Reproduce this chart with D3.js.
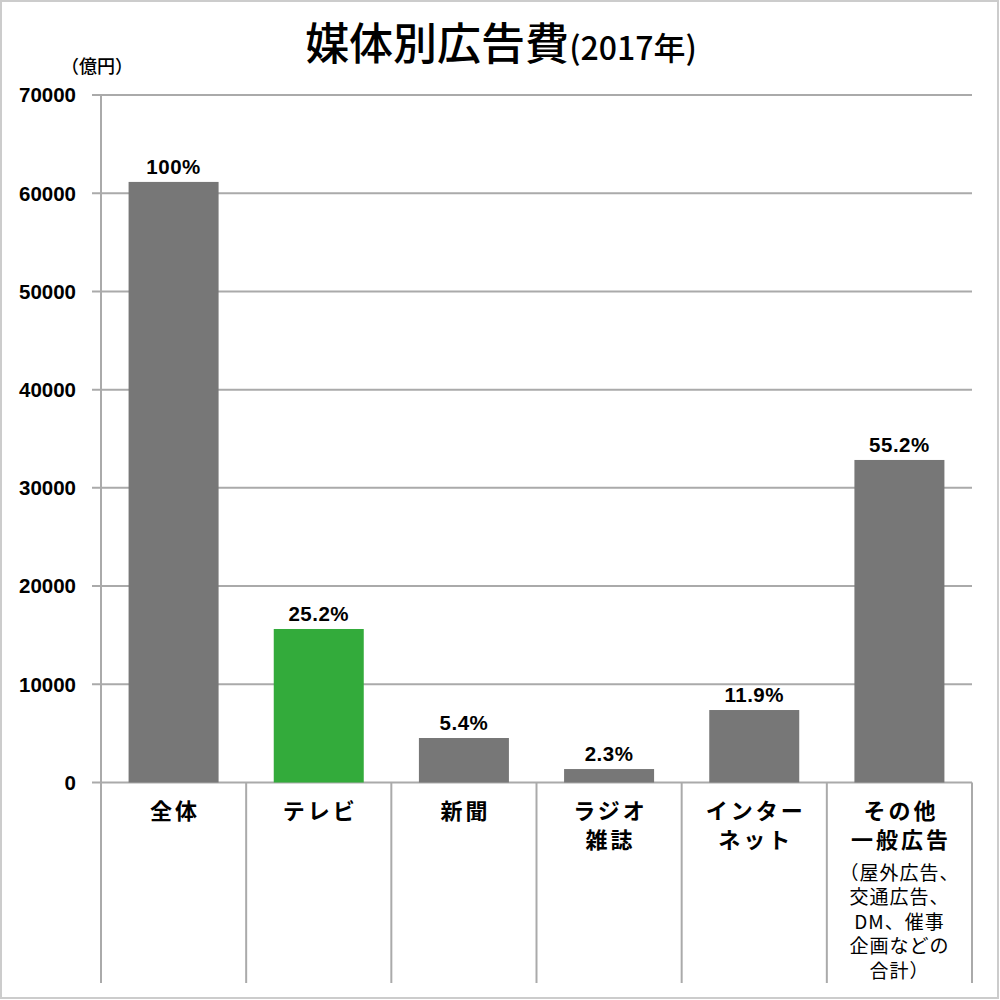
<!DOCTYPE html>
<html><head><meta charset="utf-8">
<script src="https://cdn.jsdelivr.net/npm/d3@7"></script>
<style>
html,body{margin:0;padding:0;background:#fff;}
svg{display:block;}
text{font-family:"Noto Sans CJK JP","Noto Sans",sans-serif;fill:#000;}
</style></head>
<body>
<script>
const categories = ["全体","テレビ","新聞","ラジオ雑誌","インターネット","その他一般広告"];
const categoryLines = [["全体"],["テレビ"],["新聞"],["ラジオ","雑誌"],["インター","ネット"],["その他","一般広告"]];
const values = [61150, 15630, 4530, 1370, 7380, 32840];
const shares = ["100%","25.2%","5.4%","2.3%","11.9%","55.2%"];
const barColors = ["#777777","#33ab3b","#777777","#777777","#777777","#777777"];
const yTicks = [0,10000,20000,30000,40000,50000,60000,70000];
const noteLines = ["（屋外広告、","交通広告、","DM、催事","企画などの","合計）"];
const titleMain = "媒体別広告費";
const titleSub = "(2017年)";
const unitLabel = "（億円）";

(function(){
const W = 1000, H = 1000;
const pLeft = 101, pRight = 972, pTop = 95, pBase = 782.5, pEnd = 983;

const svg = d3.select("body").append("svg").attr("width", W).attr("height", H);

svg.append("rect").attr("x",1).attr("y",1).attr("width",997).attr("height",997)
  .attr("fill","#fff").attr("stroke","#cccccc").attr("stroke-width",2);

const x = d3.scaleBand().domain(categories).range([pLeft, pRight]).padding(0);
const y = d3.scaleLinear().domain([0,70000]).range([pBase, pTop]);

svg.append("g").selectAll("line").data(yTicks).join("line")
  .attr("x1", 92).attr("x2", pRight)
  .attr("y1", d => y(d)).attr("y2", d => y(d))
  .attr("stroke","#aaaaaa").attr("stroke-width",2);

svg.append("g").selectAll("text").data(yTicks).join("text")
  .attr("x", 76).attr("y", d => y(d)).attr("dy","0.36em")
  .attr("text-anchor","end")
  .style("font-family","'Liberation Sans',Arial,sans-serif")
  .style("font-weight","700").style("font-size","20.5px")
  .text(d => d);

const seps = categories.map(c => x(c)).concat([pRight]);
svg.append("g").selectAll("line").data(seps).join("line")
  .attr("x1", d => d).attr("x2", d => d)
  .attr("y1", (d,i) => i===0 ? pTop : pBase).attr("y2", pEnd)
  .attr("stroke","#aaaaaa").attr("stroke-width",2);

const bw = x.bandwidth();
svg.append("g").selectAll("rect").data(categories).join("rect")
  .attr("x", c => x(c) + bw*0.19)
  .attr("width", bw*0.62)
  .attr("y", (c,i) => y(values[i]))
  .attr("height", (c,i) => pBase - y(values[i]))
  .attr("fill", (c,i) => barColors[i]);

svg.append("g").selectAll("text").data(categories).join("text")
  .attr("x", c => x(c) + bw/2)
  .attr("y", (c,i) => y(values[i]) - 8)
  .attr("text-anchor","middle")
  .style("font-family","'Liberation Sans',Arial,sans-serif")
  .style("font-weight","700").style("font-size","20.5px")
  .style("letter-spacing","0.5px")
  .text((c,i) => shares[i]);

const cg = svg.append("g");
categories.forEach((c,i) => {
  categoryLines[i].forEach((ln,j) => {
    cg.append("text")
      .attr("x", x(c) + bw/2 + 1.5)
      .attr("y", 811 + j*29)
      .attr("dy","0.36em")
      .attr("text-anchor","middle")
      .style("font-weight","700").style("font-size","22px")
      .style("letter-spacing","3px")
      .text(ln);
  });
});

const lastC = categories[categories.length-1];
svg.append("g").selectAll("text").data(noteLines).join("text")
  .attr("x", x(lastC) + bw/2)
  .attr("y", (d,i) => 873 + i*24.5)
  .attr("dy","0.36em")
  .attr("text-anchor","middle")
  .style("font-size","19px")
  .style("letter-spacing","1px")
  .text(d => d);

svg.append("text").attr("x", 97).attr("y", 67).attr("dy","0.36em")
  .attr("text-anchor","middle")
  .style("font-size","18px").style("font-weight","500")
  .text(unitLabel);

const t = svg.append("text").attr("x", 501).attr("y", 60)
  .attr("text-anchor","middle").style("font-weight","500");
t.append("tspan").style("font-size","44px").text(titleMain);
t.append("tspan").style("font-size","32px").text(titleSub);
})();
</script>
</body></html>
